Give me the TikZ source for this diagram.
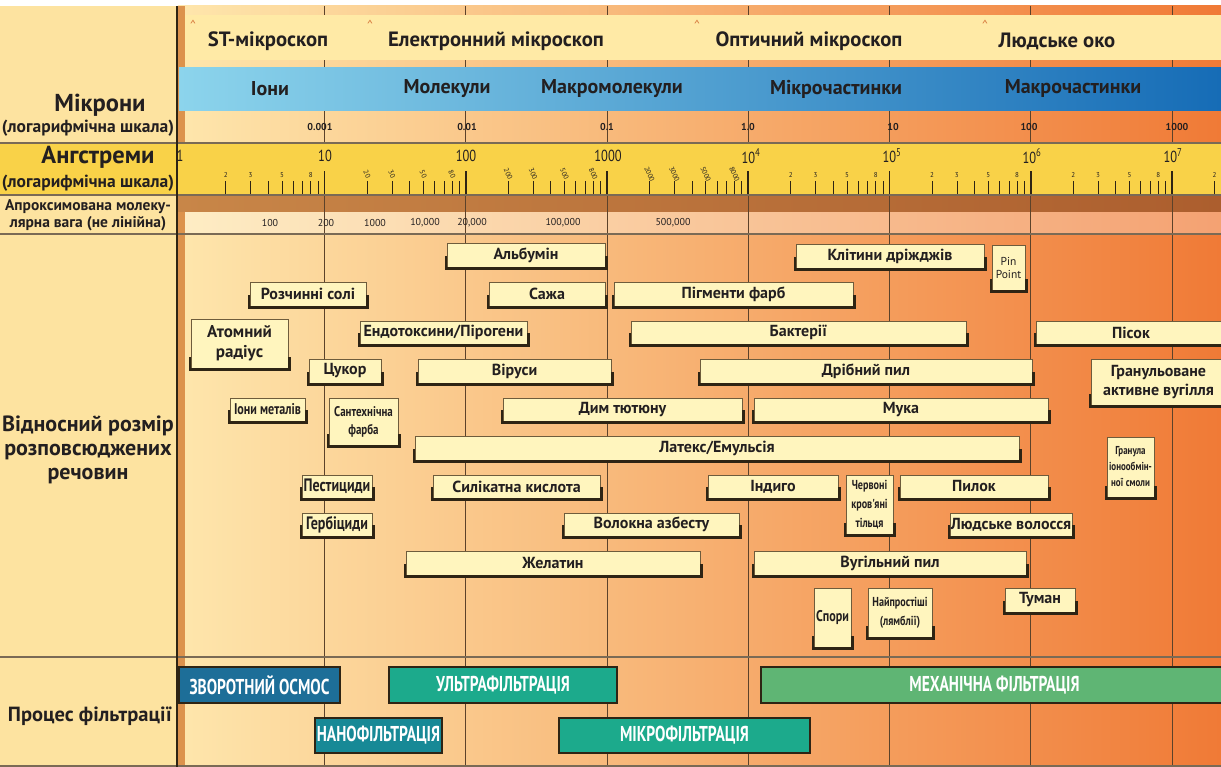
\documentclass[tikz,border=0pt]{standalone}
\usepackage{fontspec}
\setmainfont{PT Sans}
\newfontfamily\narrowfont[FakeStretch=0.78]{PT Sans}
\newfontfamily\barfont[FakeStretch=0.72]{PT Sans}
\usetikzlibrary{calc}
\definecolor{sidecol}{RGB}{253,227,160}
\definecolor{bgL}{RGB}{254,230,172}
\definecolor{bgM}{RGB}{250,186,120}
\definecolor{bgR}{RGB}{240,122,54}
\definecolor{micband}{RGB}{255,234,166}
\definecolor{blueL}{RGB}{140,212,236}
\definecolor{blueR}{RGB}{22,108,182}
\definecolor{gold}{RGB}{249,210,72}
\definecolor{brownL}{RGB}{200,134,72}
\definecolor{brownR}{RGB}{172,94,46}
\definecolor{gridcol}{RGB}{92,66,42}
\definecolor{rulecol}{RGB}{122,106,85}
\definecolor{ink}{RGB}{35,31,32}
\definecolor{boxfill}{RGB}{255,245,190}
\definecolor{boxline}{RGB}{110,92,60}
\definecolor{hook}{RGB}{46,36,20}
\definecolor{osmos}{RGB}{29,110,152}
\definecolor{nano}{RGB}{23,137,150}
\definecolor{ultra}{RGB}{28,170,140}
\definecolor{mech}{RGB}{95,181,116}
\definecolor{edgecol}{RGB}{220,146,76}
\definecolor{caretcol}{RGB}{214,120,60}

\begin{document}
\begin{tikzpicture}[x=1pt, y=-1pt, text=ink,
  box/.style={draw=boxline, line width=0.6pt, fill=boxfill, inner sep=0pt, align=center},
  hookline/.style={draw=hook, line width=2.4pt},
  lbl/.style={font=\bfseries\fontsize{16}{19}\selectfont},
  lbla/.style={font=\bfseries\fontsize{17}{20}\selectfont},
  lblc/.style={font=\narrowfont\bfseries\fontsize{18}{20}\selectfont},
  lblm/.style={font=\narrowfont\bfseries\fontsize{15.5}{18}\selectfont},
  lbls/.style={font=\narrowfont\bfseries\fontsize{14}{18}\selectfont},
  lblt/.style={font=\narrowfont\bfseries\fontsize{13}{19}\selectfont},
  lblg/.style={font=\narrowfont\bfseries\fontsize{11.5}{16}\selectfont},
  lblp/.style={font=\fontsize{11.5}{13}\selectfont},
  head/.style={font=\bfseries\fontsize{20}{22}\selectfont},
  scope/.style={font=\bfseries\fontsize{20.7}{22}\selectfont},
  sidebig/.style={font=\bfseries\fontsize{24.5}{26}\selectfont},
  sidesm/.style={font=\bfseries\fontsize{17.5}{19}\selectfont},
  sidexs/.style={font=\bfseries\fontsize{15.5}{17}\selectfont, align=center},
  sidemid/.style={font=\bfseries\fontsize{22}{24}\selectfont, align=center},
  fbar/.style={draw=hook, line width=1.2pt, text=white, inner sep=0pt,
               font=\barfont\bfseries\fontsize{21.5}{23}\selectfont},
  tick/.style={draw=hook, line width=0.7pt},
  dtick/.style={draw=hook, line width=1.6pt},
  tnum/.style={font=\fontsize{7}{8}\selectfont, inner sep=0.5pt},
  tnumr/.style={font=\fontsize{7}{8}\selectfont, inner sep=0pt, rotate=-65},
  mnum/.style={font=\bfseries\fontsize{10}{12}\selectfont},
  wnum/.style={font=\fontsize{10}{12}\selectfont},
  anum/.style={font=\narrowfont\fontsize{16}{18}\selectfont, inner sep=1pt},
  caretmark/.style={font=\fontsize{13}{13}\selectfont, text=caretcol}]
  \useasboundingbox (0,0) rectangle (1221,767);
  % backgrounds
  \fill[white] (0,0) rectangle (1221,767);
  \fill[sidecol] (0,6) rectangle (177,767);
  \shade[left color=bgL, middle color=bgM, right color=bgR] (178,6) rectangle (1221,767);
  \fill[edgecol] (177,6) rectangle (185,767);
  \shade[left color=brownL, right color=brownR] (178,195) rectangle (1221,212);
  \fill[white, opacity=0.3] (185,212) rectangle (1221,234);
  \foreach \k in {1,...,7}
    \draw[gridcol, line width=0.7pt] ({183.25+141.25*\k},6) -- ({183.25+141.25*\k},767);
  \fill[micband] (185,15) rectangle (1221,60);
  \shade[left color=blueL, right color=blueR] (179,68) rectangle (1221,111);
  \fill[gold] (0,143) rectangle (1221,195);

  % angstrom ticks
  \foreach \d in {0,...,6} {
    \foreach \m in {2,...,9}
      \draw[tick] ({183.25+141.25*(\d+ln(\m)/ln(10))},195) -- ++(0,-14);
  }
  \draw[tick] ({183.25+141.25*(7+ln(2)/ln(10))},195) -- ++(0,-14);
  \foreach \k in {1,...,7}
    \draw[dtick] ({183.25+141.25*\k},195) -- ++(0,-24);
  \foreach \d in {0,4,5,6} {
    \foreach \m in {2,3,5,8}
      \node[tnum] (t\d\m) at ({183.25+141.25*(\d+ln(\m)/ln(10))},175) {\m};
  }
  \node[tnum] (t72) at ({183.25+141.25*(7+ln(2)/ln(10))},175) {2};
  \foreach \d/\z in {1/0,2/00,3/000} {
    \foreach \m in {2,3,5,8}
      \node[tnumr] (r\d\m) at ({183.25+141.25*(\d+ln(\m)/ln(10))},174) {\m\z};
  }

  % rules
  \foreach \y in {143,195,234,657,766}
    \draw[rulecol, line width=1.2pt] (0,\y) -- (1221,\y);
  \draw[hook, line width=1.8pt] (177,6) -- (177,767);

  % scale texts
  \foreach \x/\lbl [count=\i] in {268/ST-мікроскоп, 496/Електронний мікроскоп,
                                  809/Оптичний мікроскоп, 1057/Людське око}
    \node[scope] (sc\i) at (\x,41) {\lbl};
  \foreach \x [count=\i] in {193,370,697,985}
    \node[caretmark] (ca\i) at (\x,25) {\textasciicircum};
  \foreach \x/\lbl [count=\i] in {270/Іони, 447/Молекули, 612/Макромолекули,
                                  836/Мікрочастинки, 1073/Макрочастинки}
    \node[head] (pt\i) at (\x,89) {\lbl};
  \foreach \x/\lbl [count=\i] in {320/0.001, 467/0.01, 607/0.1, 748/1.0,
                                  893/10, 1029/100, 1177/1000}
    \node[mnum] (mu\i) at (\x,127) {\lbl};
  \foreach \x/\lbl [count=\i] in {180/1, 325/10, 466/100, 608/1000,
                                  751/10\textsuperscript{4}, 892/10\textsuperscript{5},
                                  1032/10\textsuperscript{6}, 1173/10\textsuperscript{7}}
    \node[anum] (an\i) at (\x,156) {\lbl};
  \foreach \x/\lbl [count=\i] in {270/100, 326/200, 375/1000, 425/{10,000},
                                  472/{20,000}, 563/{100,000}, 673/{500,000}}
    \node[wnum] (mw\i) at (\x,223) {\lbl};

  % side column
  \node[sidebig] (mikr) at (100,105) {Мікрони};
  \node[sidesm] (mikrs) at (88,128) {(логарифмічна шкала)};
  \node[sidebig] (angs) at (98,157) {Ангстреми};
  \node[sidesm] (angss) at (88,183) {(логарифмічна шкала)};
  \node[sidexs] (mwt) at (88,215) {Апроксимована молеку-\\лярна вага (не лінійна)};
  \node[sidemid] (rel) at (88,450) {Відносний розмір\\розповсюджених\\речовин};
  \node[sidexs, font=\bfseries\fontsize{20.5}{22}\selectfont] (proc) at (90,716) {Процес фільтрації};

  % substances
  \foreach \xa/\ya/\xb/\yb/\st/\txt [count=\i] in {
      447/243/605/267/lbl/Альбумін, 796/244/984/268/lbl/Клітини дріжджів,
      992/245/1025/290/lblp/{Pin\\Point}, 250/282/366/306/lbl/Розчинні солі,
      489/282/605/306/lbl/Сажа, 614/282/853/306/lbl/Пігменти фарб,
      191/319/288/368/lbla/{Атомний\\радіус}, 360/321/527/344/lbl/{Ендотоксини/Пірогени},
      631/321/966/344/lbl/Бактерії, 1036/321/1226/344/lbl/Пісок,
      309/359/381/383/lbl/Цукор, 418/359/611/383/lbl/Віруси,
      700/359/1032/383/lbl/Дрібний пил, 1091/359/1226/405/lbl/{Гранульоване\\активне вугілля},
      230/398/305/421/lblm/Іони металів, 329/398/398/445/lbls/{Сантехнічна\\фарба},
      503/398/742/421/lbl/Дим тютюну, 754/398/1048/421/lbl/Мука,
      415/436/1019/460/lbl/{Латекс/Емульсія}, 1107/437/1154/497/lblg/{Гранула\\іонообмін-\\ної смоли},
      302/475/372/498/lblc/Пестициди, 433/475/600/498/lbl/Силікатна кислота,
      708/475/838/498/lbl/Індиго, 846/475/893/534/lblt/{Червоні\\кров'яні\\тільця},
      900/475/1048/498/lbl/Пилок, 302/513/372/536/lblc/Гербіциди,
      564/513/739/536/lbl/Волокна азбесту, 950/513/1072/536/lbl/Людське волосся,
      406/551/700/575/lbl/Желатин, 754/551/1026/575/lbl/Вугільний пил,
      814/588/851/647/lblm/Спори, 868/588/932/637/lblt/{Найпростіші\\(лямблії)},
      1005/588/1075/612/lbl/Туман} {
    \node[box, \st, minimum width={(\xb-\xa)*1pt}, minimum height={(\yb-\ya)*1pt}]
      (b\i) at ({(\xa+\xb)/2},{(\ya+\yb)/2}) {\txt};
    \draw[hookline] ($(b\i.south west)+(-1,-11)$) -- ($(b\i.south west)+(-1,1.2)$)
      -- ($(b\i.south east)+(1,1.2)$) -- ($(b\i.south east)+(1,-11)$);
  }

  % filtration
  \foreach \xa/\ya/\xb/\yb/\col/\txt [count=\i] in {
      179/667/340/703/osmos/ЗВОРОТНИЙ ОСМОС, 389/667/617/703/ultra/УЛЬТРАФІЛЬТРАЦІЯ,
      761/667/1228/703/mech/МЕХАНІЧНА ФІЛЬТРАЦІЯ, 315/718/442/753/nano/НАНОФІЛЬТРАЦІЯ,
      559/718/810/753/ultra/МІКРОФІЛЬТРАЦІЯ}
    \node[fbar, fill=\col, minimum width={(\xb-\xa)*1pt}, minimum height={(\yb-\ya)*1pt}]
      (f\i) at ({(\xa+\xb)/2},{(\ya+\yb)/2}) {\txt};
\end{tikzpicture}
\end{document}
